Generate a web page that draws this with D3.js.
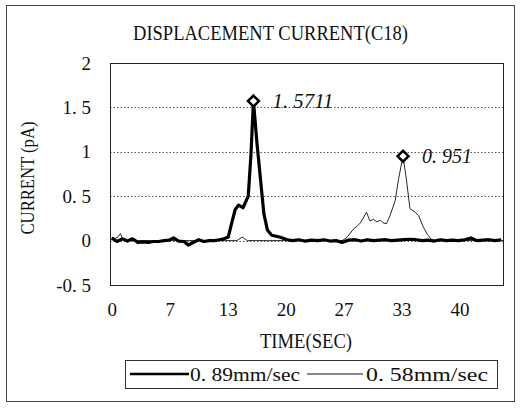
<!DOCTYPE html>
<html><head><meta charset="utf-8">
<script src="https://cdn.jsdelivr.net/npm/d3@7"></script>
<style>html,body{margin:0;padding:0;background:#fff}svg{display:block}</style>
</head><body>
<svg id="chart" width="528" height="411"></svg>
<script>
// ---- data ----
const title = "DISPLACEMENT CURRENT(C18)";
const xTitle = "TIME(SEC)";
const yTitle = "CURRENT (pA)";
const xTickValues = [0, 6.667, 13.333, 20, 26.667, 33.333, 40];
const xTickLabels = ["0", "7", "13", "20", "27", "33", "40"];
const yTickValues = [-0.5, 0, 0.5, 1, 1.5, 2];
const yTickLabels = ["-0. 5", "0", "0. 5", "1", "1. 5", "2"];
const seriesNames = ["0. 89mm/sec", "0. 58mm/sec"];

const fastTime = [0, 0.6, 1.2, 1.8, 2.4, 3.0, 3.6, 4.2, 4.8, 5.4, 6.0, 6.6, 7.1, 7.7, 8.3, 8.8, 9.4, 10.0, 10.6, 11.2, 11.8, 12.4, 12.9, 13.4, 13.8,
  14.2, 14.6, 15.1, 15.7, 16.0, 16.3, 16.7, 17.1, 17.5, 17.9, 18.4, 19.3, 20.2,
  20.8, 21.5, 22.2, 23.0, 23.7, 24.4, 25.1, 25.8, 26.5, 27.2, 28.0, 28.7, 29.4, 30.1, 30.8, 31.5, 32.2, 32.9, 33.6, 34.3, 35.0, 35.7, 36.4, 37.1, 37.8, 38.5, 39.2, 39.9, 40.6, 41.3, 42.0, 42.7, 43.4, 44.1, 44.8];
const fastValue = [0.03, -0.01, 0.02, -0.005, 0.02, -0.02, -0.015, -0.02, -0.01, -0.01, 0, 0.005, 0.03, -0.005, -0.01, -0.05, -0.02, 0.01, -0.01, 0.0, 0.0, 0.01, 0.02, 0.04, 0.2,
  0.35, 0.40, 0.37, 0.50, 0.95, 1.5711, 1.1, 0.7, 0.3, 0.12, 0.06, 0.04, 0.01,
  0, 0.01, -0.005, 0.005, 0, 0.01, -0.005, 0.0, -0.02, 0.005, 0.01, -0.005, 0.01, 0, 0.005, 0.01, 0, 0.005, 0.01, 0.015, 0.01, 0, 0.005, -0.005, 0.01, 0, 0.005, 0, 0.01, 0.03, 0, 0.005, 0.01, 0, 0.01];

const slowTime = [0, 0.7, 1.0, 1.3, 3, 6, 9, 12, 14.4, 15.0, 15.6, 18, 21, 24, 26.5, 27.0, 27.4, 27.8, 28.2, 28.6, 28.9, 29.3, 29.7, 30.1, 30.5, 30.9, 31.2, 31.6, 32.0, 32.6, 33.0, 33.5, 33.9, 34.3, 34.9, 35.3, 35.8, 36.3, 36.8, 37.3, 39, 42, 45];
const slowValue = [0.01, 0.04, 0.08, 0.0, 0, 0, 0, 0, 0, 0.04, 0, 0, 0, 0, 0, 0.03, 0.08, 0.13, 0.16, 0.2, 0.25, 0.32, 0.22, 0.24, 0.21, 0.23, 0.2, 0.19, 0.28, 0.45, 0.7, 0.951, 0.68, 0.36, 0.32, 0.28, 0.16, 0.07, 0.01, 0, 0, 0, 0];

const peakLabels = ["1. 5711", "0. 951"];

// ---- layout ----
const svg = d3.select("#chart");
const font = "'Liberation Serif', 'DejaVu Serif', serif";
const plot = {left: 110, right: 503, top: 63, bottom: 285};
const x = d3.scaleLinear().domain([-0.2, 45]).range([plot.left, plot.right]);
const y = d3.scaleLinear().domain([-0.5, 2]).range([plot.bottom, plot.top]);

// outer frame
svg.append("rect").attr("x", 6.5).attr("y", 5.5).attr("width", 508).attr("height", 396)
  .attr("fill", "none").attr("stroke", "#444").attr("stroke-width", 1);

// title
svg.append("text").attr("x", 270.5).attr("y", 40).attr("text-anchor", "middle")
  .attr("font-family", font).attr("font-size", 22).attr("textLength", 275).attr("lengthAdjust", "spacingAndGlyphs")
  .attr("fill", "#111").text(title);

// gridlines
svg.append("g").selectAll("line").data(yTickValues.filter(v => v > -0.5 && v < 2)).join("line")
  .attr("x1", plot.left).attr("x2", plot.right)
  .attr("y1", d => Math.round(y(d)) + 0.5).attr("y2", d => Math.round(y(d)) + 0.5)
  .attr("stroke", "#555").attr("stroke-width", 1).attr("stroke-dasharray", "1.5,2");

// plot border
svg.append("rect").attr("x", plot.left + 0.5).attr("y", plot.top + 0.5)
  .attr("width", plot.right - plot.left).attr("height", plot.bottom - plot.top)
  .attr("fill", "none").attr("stroke", "#222").attr("stroke-width", 1);

// y axis labels
const yAxis = d3.axisLeft(y).tickValues(yTickValues).tickSize(0).tickPadding(0)
  .tickFormat((d, i) => yTickLabels[i]);
const gy = svg.append("g").attr("transform", `translate(91,0)`).call(yAxis);
gy.select(".domain").remove();
gy.selectAll("text").attr("font-family", font).attr("font-size", 19).attr("fill", "#111");

// x axis labels
const xAxis = d3.axisBottom(x).tickValues(xTickValues).tickSize(0).tickPadding(0)
  .tickFormat((d, i) => xTickLabels[i]);
const gx = svg.append("g").attr("transform", `translate(0,302)`).call(xAxis);
gx.select(".domain").remove();
gx.selectAll("text").attr("font-family", font).attr("font-size", 19).attr("fill", "#111");

// axis titles
svg.append("text").attr("x", 306).attr("y", 348).attr("text-anchor", "middle")
  .attr("font-family", font).attr("font-size", 20).attr("textLength", 92).attr("lengthAdjust", "spacingAndGlyphs")
  .attr("fill", "#111").text(xTitle);
svg.append("text").attr("transform", "translate(34,178) rotate(-90)").attr("text-anchor", "middle")
  .attr("font-family", font).attr("font-size", 19).attr("textLength", 113).attr("lengthAdjust", "spacingAndGlyphs")
  .attr("fill", "#111").text(yTitle);

// lines
const line = d3.line().x(d => x(d[0])).y(d => y(d[1])).curve(d3.curveLinear);
const slow = slowTime.map((t, i) => [t, slowValue[i]]);
const fast = fastTime.map((t, i) => [t, fastValue[i]]);
svg.append("path").datum(slow).attr("d", line).attr("fill", "none")
  .attr("stroke", "#111").attr("stroke-width", 0.9).attr("stroke-linejoin", "round");
svg.append("path").datum(fast).attr("d", line).attr("fill", "none")
  .attr("stroke", "#000").attr("stroke-width", 3.2).attr("stroke-linejoin", "round");

// peak markers & labels
const peaks = [fast[d3.maxIndex(fastValue)], slow[d3.maxIndex(slowValue)]];
const sym = d3.symbol().type(d3.symbolSquare).size(60);
svg.append("g").selectAll("path").data(peaks).join("path")
  .attr("d", sym)
  .attr("transform", d => `translate(${x(d[0])},${y(d[1])}) rotate(45)`)
  .attr("fill", "#fff").attr("stroke", "#000").attr("stroke-width", 2.5);
svg.append("g").selectAll("text").data(peaks).join("text")
  .attr("x", d => x(d[0]) + 19).attr("y", d => y(d[1]) + 7)
  .attr("font-family", font).attr("font-size", 20).attr("font-style", "italic")
  .attr("textLength", (d, i) => i === 0 ? 61 : 50).attr("lengthAdjust", "spacingAndGlyphs")
  .attr("fill", "#111").text((d, i) => peakLabels[i]);

// legend
const lg = svg.append("g");
lg.append("rect").attr("x", 125.5).attr("y", 360.5).attr("width", 372).attr("height", 28)
  .attr("fill", "#fff").attr("stroke", "#333").attr("stroke-width", 1);
lg.append("line").attr("x1", 130).attr("x2", 189).attr("y1", 374).attr("y2", 374)
  .attr("stroke", "#000").attr("stroke-width", 2.5);
lg.append("text").attr("x", 190).attr("y", 381).attr("font-family", font).attr("font-size", 19)
  .attr("textLength", 110).attr("lengthAdjust", "spacingAndGlyphs").attr("fill", "#111").text(seriesNames[0]);
lg.append("line").attr("x1", 307).attr("x2", 363).attr("y1", 374).attr("y2", 374)
  .attr("stroke", "#111").attr("stroke-width", 1);
lg.append("text").attr("x", 366).attr("y", 381).attr("font-family", font).attr("font-size", 19)
  .attr("textLength", 122).attr("lengthAdjust", "spacingAndGlyphs").attr("fill", "#111").text(seriesNames[1]);
</script>
</body></html>
